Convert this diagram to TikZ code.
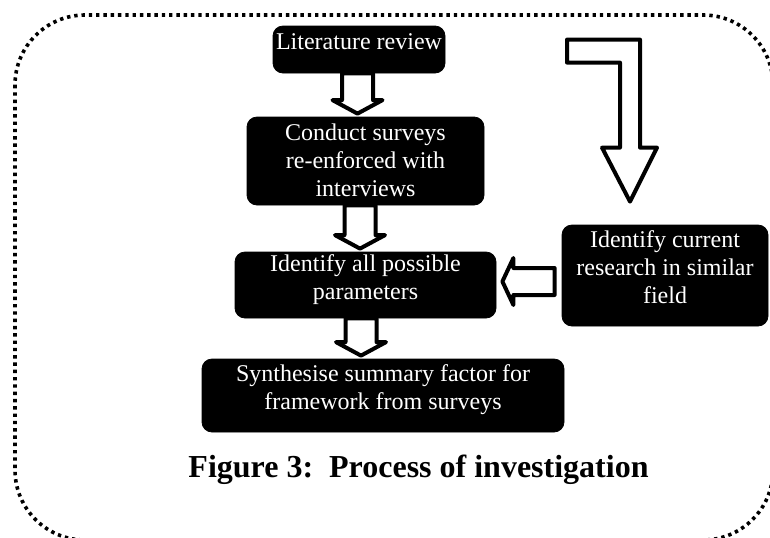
\documentclass[tikz,border=0pt]{standalone}
\usepackage{fontspec}
\setmainfont{Liberation Serif}
\usetikzlibrary{calc,positioning}

\begin{document}
\begin{tikzpicture}[
  x=0.5pt, y=-0.5pt,
  stepbox/.style={fill=black, draw=black, rounded corners=5pt, inner sep=0pt},
  boxtext/.style={text=white, align=center, inner sep=0pt,
                  font=\fontsize{12}{14}\selectfont},
  blockarr/.style={draw=black, fill=white, line width=2pt, line join=round},
  dotborder/.style={draw=black, line width=1.8pt, dash pattern=on 1.7pt off 1.95pt},
  captext/.style={font=\bfseries\fontsize{16}{19}\selectfont, inner sep=0pt}
]
  \useasboundingbox (0,0) rectangle (770,537);
  \clip (0,0) rectangle (770,537);

  % dotted frame
  \draw[dotborder, rounded corners=35pt] (15,15) rectangle (773,540);

  % boxes
  \node[stepbox, minimum width=86pt, minimum height=23.5pt] (lit) at (359,49.5) {};
  \node[stepbox, minimum width=118.5pt, minimum height=44pt] (surv) at (365.5,161) {};
  \node[stepbox, minimum width=130.5pt, minimum height=33pt] (param) at (365.5,285) {};
  \node[stepbox, minimum width=181pt, minimum height=36.5pt] (synth) at (383,395.5) {};
  \node[stepbox, minimum width=103pt, minimum height=50.5pt] (res) at (665,275.5) {};

  \node[boxtext] (littext) at ($(lit.center)+(0,-7.5)$) {Literature review};
  \node[boxtext] (survtext) at ($(surv.center)+(0,-0.5)$)
       {Conduct surveys\\re-enforced with\\interviews};
  \node[boxtext] (paramtext) at ($(param.center)+(0,-5)$)
       {Identify all possible\\parameters};
  \node[boxtext] (synthtext) at ($(synth.center)+(0,-6)$)
       {Synthesise summary factor for\\framework from surveys};
  \node[boxtext] (restext) at ($(res.center)+(0,-8)$)
       {Identify current\\research in similar\\field};

  % block arrows down the main column
  \foreach \a/\b/\dx in {lit/surv/-8, surv/param/-5.5, param/synth/-22}{
    \draw[blockarr] let \p1=(\a.south), \p2=($(\b.north)+(\dx,-3)$) in
      (\x2-7.75pt,\y1) -- (\x2-7.75pt,\y2+6.75pt) -- (\x2-12.5pt,\y2+6.75pt)
      -- (\x2,\y2) -- (\x2+12.5pt,\y2+6.75pt) -- (\x2+7.75pt,\y2+6.75pt)
      -- (\x2+7.75pt,\y1) -- cycle;
  }

  % block arrow from research box
  \draw[blockarr] let \p1=($(res.west)+(-7,6)$), \p2=($(param.east)+(6,-3.5)$) in
    (\x1,\y1+6.75pt) -- (\x2+5.5pt,\y1+6.75pt) -- (\x2+5.5pt,\y1+11.75pt)
    -- (\x2,\y1) -- (\x2+5.5pt,\y1-11.75pt) -- (\x2+5.5pt,\y1-6.75pt)
    -- (\x1,\y1-6.75pt) -- cycle;

  % bent arrow into research box
  \coordinate (bendtip) at ($(res.north)+(-35,-23)$);
  \draw[blockarr, shift={(bendtip)}]
    (-63,-162) -- (10,-162) -- (10,-54) -- (27,-54) -- (0,0)
    -- (-28,-54) -- (-10,-54) -- (-10,-139) -- (-63,-139) -- cycle;

  % caption
  \node[captext, anchor=base] (cap) at (418.5,477) {Figure 3:\ \ Process of investigation};
\end{tikzpicture}
\end{document}
